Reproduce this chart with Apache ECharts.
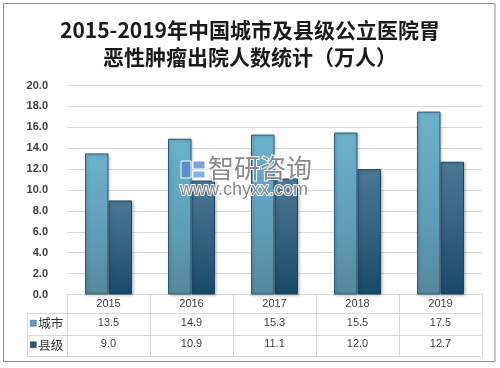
<!DOCTYPE html>
<html><head><meta charset="utf-8">
<script src="https://cdn.jsdelivr.net/npm/echarts@6/dist/echarts.min.js"></script>
<style>html,body{margin:0;padding:0;background:#fff}#c{width:500px;height:368px}</style>
</head><body><div id="c"></div>
<script>
const categories = ['2015','2016','2017','2018','2019'];
const cityValues = [13.5, 14.9, 15.3, 15.5, 17.5];
const countyValues = [9.0, 10.9, 11.1, 12.0, 12.7];
const seriesNames = ['城市','县级'];
const yTicks = {min: 0, max: 20, interval: 2};
const titleText = '2015-2019年中国城市及县级公立医院胃\n恶性肿瘤出院人数统计（万人）';

const chart = echarts.init(document.getElementById('c'), null, {renderer: 'canvas'});
const lineColor = '#d9d9d9';
const txtColor = '#404040';
const cityGrad = new echarts.graphic.LinearGradient(0,0,0,1,[{offset:0,color:'#6cb1cd'},{offset:0.6,color:'#5f9db6'},{offset:1,color:'#55889c'}]);
const countyGrad = new echarts.graphic.LinearGradient(0,0,0,1,[{offset:0,color:'#4d7896'},{offset:0.6,color:'#2f5d7a'},{offset:1,color:'#174a66'}]);

function tableAxis(offset, labels, margin, showLabel) {
  return {
    type: 'category', position: 'bottom', offset: offset, data: labels,
    axisLine: {show: true, lineStyle: {color: lineColor}},
    axisTick: {show: false},
    axisLabel: {show: showLabel, interval: 0, margin: margin, color: txtColor, fontSize: 11, fontFamily: 'Liberation Sans'},
    splitLine: {show: false}
  };
}
const wm = {z: 100, zlevel: 0};

chart.setOption({
  animation: false,
  backgroundColor: '#fff',
  title: {
    text: titleText, left: 'center', top: 17, padding: 0,
    textStyle: {fontFamily: 'Noto Sans CJK SC', fontSize: 21, fontWeight: 'bold', lineHeight: 27, color: '#1a1a1a'}
  },
  legend: {
    orient: 'vertical', left: 30, top: 317, padding: 0, itemWidth: 6, itemHeight: 6, itemGap: 9, icon: 'rect',
    textStyle: {fontFamily: 'Noto Sans CJK SC', fontSize: 12.5, color: '#333', padding: [0,0,0,-3]},
    data: [
      {name: seriesNames[0], itemStyle: {color: '#5fa3c0', borderColor: '#2f5a75', borderWidth: 0.5}},
      {name: seriesNames[1], itemStyle: {color: '#2a5876', borderColor: '#1c3e55', borderWidth: 0.5}}
    ]
  },
  grid: {left: 67, right: 18, top: 85.5, bottom: 73.5},
  xAxis: [
    {
      type: 'category', position: 'bottom', data: categories,
      axisLine: {show: true, lineStyle: {color: lineColor}},
      axisTick: {show: true, length: 61.5, interval: 0, lineStyle: {color: lineColor}},
      axisLabel: {interval: 0, margin: 4, color: txtColor, fontSize: 11, fontFamily: 'Liberation Sans'}
    },
    tableAxis(18.6, cityValues.map(v => v.toFixed(1)), 4, true),
    tableAxis(40.3, countyValues.map(v => v.toFixed(1)), 4, true),
    tableAxis(61.5, categories, 4, false)
  ],
  yAxis: {
    type: 'value', min: yTicks.min, max: yTicks.max, interval: yTicks.interval,
    axisLine: {show: false}, axisTick: {show: false},
    axisLabel: {margin: 19, color: txtColor, fontSize: 11, fontWeight: 'bold', fontFamily: 'Liberation Sans', formatter: v => v.toFixed(1)},
    splitLine: {lineStyle: {color: lineColor}}
  },
  series: [
    {name: seriesNames[0], type: 'bar', data: cityValues, barWidth: 23.5, barGap: '0%',
     itemStyle: {color: cityGrad, borderColor: '#2f5a75', borderWidth: 1, shadowColor: 'rgba(0,0,0,0.25)', shadowBlur: 3, shadowOffsetX: 1, shadowOffsetY: 1}},
    {name: seriesNames[1], type: 'bar', data: countyValues, barWidth: 23.5,
     itemStyle: {color: countyGrad, borderColor: '#1f4560', borderWidth: 1, shadowColor: 'rgba(0,0,0,0.25)', shadowBlur: 3, shadowOffsetX: 1, shadowOffsetY: 1}}
  ],
  graphic: [
    {type: 'rect', z: 100, shape: {x: 3.5, y: 3.5, width: 491.5, height: 358}, style: {fill: 'none', stroke: '#8c8c8c', lineWidth: 1}},
    {type: 'line', shape: {x1: 27, y1: 313.5, x2: 67, y2: 313.5}, style: {stroke: lineColor, lineWidth: 1}},
    {type: 'line', shape: {x1: 27, y1: 335.5, x2: 67, y2: 335.5}, style: {stroke: lineColor, lineWidth: 1}},
    {type: 'line', shape: {x1: 27, y1: 356.5, x2: 67, y2: 356.5}, style: {stroke: lineColor, lineWidth: 1}},
    {type: 'line', shape: {x1: 27.5, y1: 313, x2: 27.5, y2: 357}, style: {stroke: lineColor, lineWidth: 1}},
    Object.assign({type: 'rect', shape: {x: 181, y: 161, width: 10, height: 17}, style: {fill: 'rgba(90,140,200,0.8)', stroke: '#fff', lineWidth: 1}}, wm),
    Object.assign({type: 'rect', shape: {x: 193, y: 161, width: 12, height: 8}, style: {fill: 'rgba(90,140,200,0.8)', stroke: '#fff', lineWidth: 1}}, wm),
    Object.assign({type: 'rect', shape: {x: 193, y: 171, width: 12, height: 7}, style: {fill: 'rgba(90,160,220,0.8)', stroke: '#fff', lineWidth: 1}}, wm),
    Object.assign({type: 'text', x: 208, y: 155, style: {text: '智研咨询', font: '26px "Noto Sans CJK SC"', fill: 'rgba(125,125,125,0.9)', stroke: 'rgba(255,255,255,0.9)', lineWidth: 2}}, wm),
    Object.assign({type: 'text', x: 180, y: 181, style: {text: 'www.chyxx.com', font: '18px "Liberation Sans"', fill: 'rgba(125,125,125,0.9)', stroke: 'rgba(255,255,255,0.9)', lineWidth: 2}}, wm)
  ]
});
</script></body></html>
